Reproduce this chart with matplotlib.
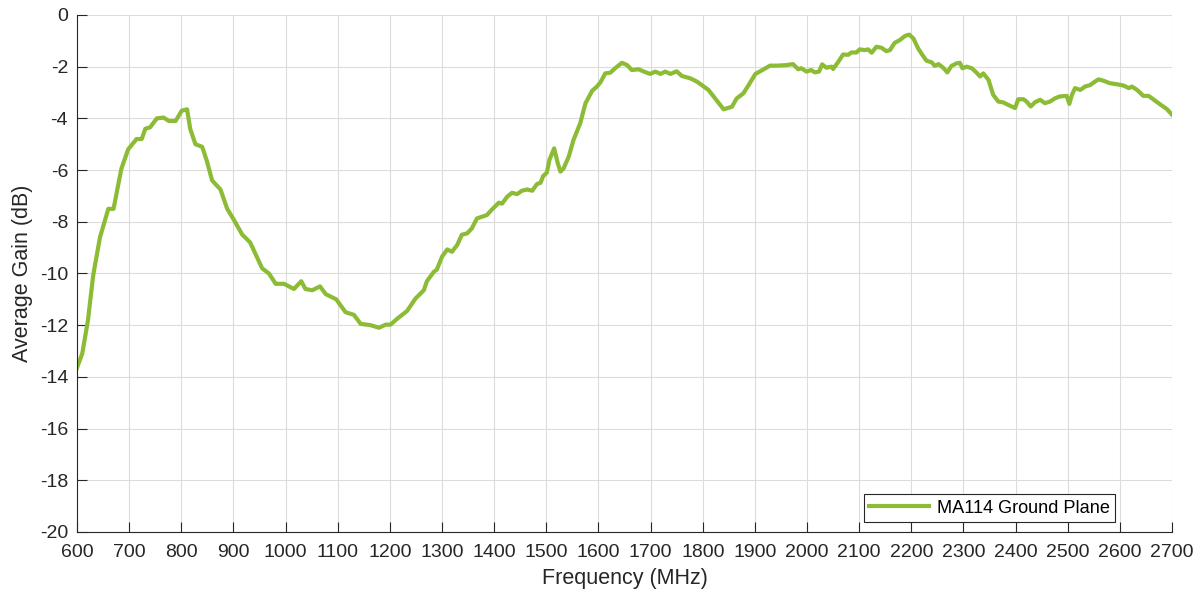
import matplotlib
matplotlib.use('Agg')
import matplotlib.pyplot as plt
import numpy as np

# frequency (MHz) and gain (dB)
freq = [600, 610, 621, 631, 644, 660, 670, 685, 698, 714, 724, 731, 740, 753, 766, 776, 789,
        801, 811, 817, 827, 840, 849, 859, 875, 888, 900, 917, 932, 955, 968, 981, 997, 1016,
        1030, 1038, 1051, 1066, 1077, 1087, 1097, 1115, 1131, 1144, 1163, 1179, 1192, 1201,
        1214, 1233, 1249, 1265, 1271, 1284, 1290, 1300, 1310, 1319, 1329, 1338, 1348, 1357,
        1367, 1377, 1386, 1396, 1409, 1415, 1425, 1434, 1444, 1453, 1463, 1473, 1482, 1489,
        1494, 1501, 1506, 1515, 1522, 1527, 1533, 1543, 1552, 1565, 1575, 1588, 1597, 1604,
        1613, 1623, 1632, 1645, 1655, 1664, 1677, 1687, 1699, 1709, 1719, 1728, 1738, 1750,
        1760, 1776, 1789, 1802, 1811, 1821, 1831, 1840, 1856, 1865, 1878, 1888, 1901, 1917,
        1929, 1942, 1960, 1973, 1983, 1989, 1999, 2008, 2015, 2023, 2029, 2037, 2047, 2050,
        2060, 2069, 2079, 2085, 2095, 2101, 2111, 2117, 2124, 2133, 2143, 2152, 2159, 2168,
        2178, 2188, 2196, 2204, 2213, 2220, 2229, 2239, 2245, 2252, 2261, 2269, 2277, 2287,
        2293, 2298, 2306, 2316, 2325, 2332, 2338, 2348, 2357, 2367, 2376, 2389, 2399, 2405,
        2415, 2421, 2429, 2437, 2447, 2456, 2466, 2476, 2485, 2498, 2503, 2508, 2514, 2524,
        2533, 2543, 2552, 2559, 2568, 2581, 2594, 2607, 2617, 2623, 2633, 2645, 2655, 2665,
        2678, 2690, 2700]
gain = [-13.64, -13.1, -11.8, -10.07, -8.6, -7.5, -7.5, -5.95, -5.2, -4.8, -4.8, -4.4, -4.35,
        -4.0, -3.97, -4.1, -4.1, -3.7, -3.65, -4.4, -5.0, -5.1, -5.65, -6.4, -6.75, -7.5,
        -7.9, -8.5, -8.8, -9.8, -10.0, -10.4, -10.4, -10.6, -10.3, -10.6, -10.65, -10.5,
        -10.8, -10.9, -11.0, -11.5, -11.6, -11.95, -12.0, -12.1, -11.98, -11.98, -11.75,
        -11.45, -10.97, -10.65, -10.3, -9.94, -9.85, -9.35, -9.07, -9.16, -8.9, -8.5, -8.45,
        -8.26, -7.87, -7.8, -7.74, -7.52, -7.26, -7.3, -7.03, -6.88, -6.93, -6.8, -6.75,
        -6.8, -6.54, -6.49, -6.23, -6.1, -5.6, -5.16, -5.74, -6.06, -5.94, -5.48, -4.84,
        -4.19, -3.42, -2.93, -2.77, -2.6, -2.26, -2.23, -2.06, -1.85, -1.94, -2.13, -2.1,
        -2.19, -2.28, -2.19, -2.28, -2.19, -2.28, -2.18, -2.36, -2.45, -2.58, -2.77, -2.9,
        -3.16, -3.42, -3.65, -3.55, -3.23, -3.03, -2.71, -2.28, -2.1, -1.96, -1.96, -1.94,
        -1.9, -2.1, -2.06, -2.19, -2.13, -2.22, -2.19, -1.91, -2.04, -2.0, -2.09, -1.81,
        -1.53, -1.54, -1.45, -1.45, -1.33, -1.36, -1.33, -1.46, -1.23, -1.27, -1.4, -1.36,
        -1.08, -0.97, -0.81, -0.76, -0.91, -1.29, -1.51, -1.77, -1.83, -1.97, -1.9, -2.04,
        -2.22, -1.97, -1.87, -1.85, -2.06, -2.0, -2.06, -2.23, -2.38, -2.26, -2.51, -3.09,
        -3.35, -3.38, -3.51, -3.6, -3.26, -3.26, -3.35, -3.54, -3.38, -3.28, -3.41, -3.35,
        -3.22, -3.15, -3.13, -3.44, -3.09, -2.83, -2.9, -2.77, -2.71, -2.58, -2.49, -2.54,
        -2.64, -2.68, -2.73, -2.83, -2.77, -2.9, -3.13, -3.13, -3.28, -3.47, -3.64, -3.86]

plt.rcParams['font.family'] = ['Liberation Sans', 'DejaVu Sans']
plt.rcParams['axes.unicode_minus'] = False

fig = plt.figure(figsize=(12, 5.99), dpi=100)
ax = fig.add_axes([0.0642, 0.1119, 0.9125, 0.8631])

ax.plot(freq, gain, color='#8cbb35', linewidth=3.0, label='MA114 Ground Plane')

ax.set_xlim(600, 2700)
ax.set_ylim(-20, 0)
ax.set_xticks(np.arange(600, 2701, 100))
ax.set_yticks(np.arange(-20, 1, 2))
ax.grid(True, color='#dcdcdc', linewidth=0.8)
ax.set_axisbelow(True)

for s in ['top', 'right']:
    ax.spines[s].set_visible(False)
for s in ['left', 'bottom']:
    ax.spines[s].set_color('#262626')
    ax.spines[s].set_linewidth(0.8)

ax.tick_params(direction='in', length=7, width=0.8, colors='#262626', labelsize=14)
ax.tick_params(axis='x', pad=8.5)
ax.tick_params(axis='y', pad=6.5)
ax.set_xlabel('Frequency (MHz)', fontsize=15.5, color='#262626', labelpad=5)
ax.set_ylabel('Average Gain (dB)', fontsize=15.5, color='#262626', labelpad=5)

leg = ax.legend(loc='lower right', bbox_to_anchor=(0.948, 0.0193), borderaxespad=0,
                fontsize=13.1, fancybox=False, framealpha=1, handlelength=3.3,
                borderpad=0.3, handletextpad=0.4)
leg.get_frame().set_edgecolor('#262626')
leg.get_frame().set_linewidth(0.8)

plt.savefig('out.png', dpi=100)
